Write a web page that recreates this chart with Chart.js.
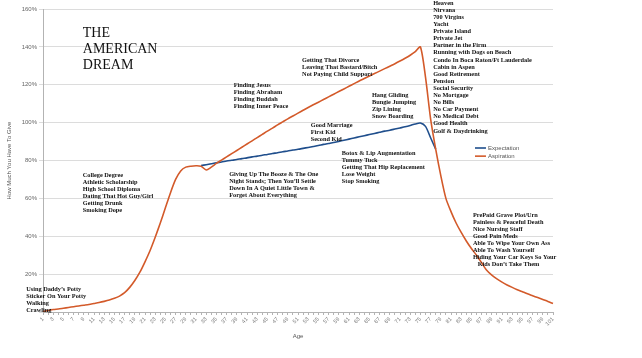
<!DOCTYPE html>
<html>
<head>
<meta charset="utf-8">
<script src="https://cdn.jsdelivr.net/npm/chart.js@4/dist/chart.umd.min.js"></script>
<style>html,body{margin:0;padding:0;background:#fff}</style>
</head>
<body>
<canvas id="chart" width="642" height="358"></canvas>
<script>
// ages on the x axis
const ages = [1,2,3,4,5,6,7,8,9,10,11,12,13,14,15,16,17,18,19,20,
  21,22,23,24,25,26,27,28,29,30,31,32,33,34,35,36,37,38,39,40,
  41,42,43,44,45,46,47,48,49,50,51,52,53,54,55,56,57,58,59,60,
  61,62,63,64,65,66,67,68,69,70,71,72,73,74,75,76,77,78,79,80,
  81,82,83,84,85,86,87,88,89,90,91,92,93,94,95,96,97,98,99,100,101];

// % you have to give
const aspiration = [0.3,0.8,1.3,1.6,2.0,2.4,2.8,3.2,3.6,4.0,
  4.5,5.0,5.6,6.3,7.2,8.4,10.2,13.0,16.6,21.0,
  26.5,32.5,39.5,47,55,63,70,74.5,76.5,77,
  77.2,77,75,76.5,78.5,80.2,81.9,83.6,85.3,87,
  88.7,90.4,92.1,93.8,95.5,97.1,98.8,100.4,102,103.5,
  105,106.5,108,109.4,110.8,112.2,113.6,115,116.4,117.8,
  119.2,120.6,122,123.3,124.6,125.9,127.2,128.5,129.8,131.1,
  132.5,134,135.6,137.5,140,124,102,86,72,60,
  53,47,42,37.5,33.5,30,26,22,19.5,17.5,
  15.8,14.3,13,11.8,10.7,9.6,8.6,7.6,6.6,5.6,4.5];

const expectation = [null,null,null,null,null,null,null,null,null,null,
  null,null,null,null,null,null,null,null,null,null,
  null,null,null,null,null,null,null,null,null,null,
  null,77.3,77.8,78.3,78.8,79.2,79.7,80.1,80.5,81,
  81.4,81.9,82.3,82.8,83.2,83.7,84.1,84.6,85,85.5,
  85.9,86.4,86.9,87.4,87.9,88.5,89,89.5,90.1,90.7,
  91.3,91.9,92.5,93.1,93.7,94.3,94.9,95.5,96,96.6,
  97.2,97.8,98.5,99.3,99.8,98,92,86,null,null,
  null,null,null,null,null,null,null,null,null,null,
  null,null,null,null,null,null,null,null,null,null,null];

const yTicks = [0,20,40,60,80,100,120,140,160];

// text boxes, placed at (age, %) of their first line
const notes = [
  {age: 8.8, pct: 147.3, big: true, lines: ['THE', 'AMERICAN', 'DREAM']},
  {age: -2.3, pct: 12.1, lines: ['Using Daddy’s Potty', 'Sticker On Your Potty', 'Walking', 'Crawling']},
  {age: 8.8, pct: 72.3, lines: ['College Degree', 'Athletic Scholarship', 'High School Diploma',
    'Dating That Hot Guy/Girl', 'Getting Drunk', 'Smoking Dope']},
  {age: 38.4, pct: 119.9, lines: ['Finding Jesus', 'Finding Abraham', 'Finding Buddah', 'Finding Inner Peace']},
  {age: 51.8, pct: 133, lines: ['Getting That Divorce', 'Leaving That Bastard/Bitch', 'Not Paying Child Support']},
  {age: 65.5, pct: 114.6, lines: ['Hang Gliding', 'Bungie Jumping', 'Zip Lining', 'Snow Boarding']},
  {age: 53.5, pct: 98.7, lines: ['Good Marriage', 'First Kid', 'Second Kid']},
  {age: 59.6, pct: 84, lines: ['Botox & Lip Augmentation', 'Tummy Tuck', 'Getting That Hip Replacement',
    'Lose Weight', 'Stop Smoking']},
  {age: 37.5, pct: 72.9, lines: ['Giving Up The Booze & The One', 'Night Stands; Then You’ll Settle',
    'Down In A Quiet Little Town &', 'Forget About Everything']},
  {age: 77.5, pct: 163.1, lines: ['Heaven', 'Nirvana', '700 Virgins', 'Yacht', 'Private Island', 'Private Jet',
    'Partner in the Firm', 'Running with Dogs on Beach', 'Condo In Boca Raton/Ft Lauderdale', 'Cabin in Aspen',
    'Good Retirement', 'Pension', 'Social Security', 'No Mortgage', 'No Bills', 'No Car Payment',
    'No Medical Debt', 'Good Health', 'Golf & Daydrinking']},
  {age: 85.3, pct: 51.2, lines: ['PrePaid Grave Plot/Urn', 'Painless & Peaceful Death', 'Nice Nursing Staff',
    'Good Pain Meds', 'Able To Wipe Your Own Ass', 'Able To Wash Yourself',
    'Hiding Your Car Keys So Your', '   Kids Don’t Take Them']}
];

const blue = '#1f4e8c';
const orange = '#d35a2a';

const annotate = {
  id: 'annotate',
  afterDatasetsDraw(chart) {
    const {ctx, scales: {x, y}} = chart;
    ctx.save();
    ctx.textBaseline = 'middle';
    ctx.fillStyle = '#111';
    notes.forEach(n => {
      ctx.font = n.big ? '14px "Liberation Serif"' : 'bold 6.3px "Liberation Serif"';
      const lh = n.big ? 16 : 7.1;
      const px = x.getPixelForValue(n.age - 1);
      const py = y.getPixelForValue(n.pct);
      n.lines.forEach((line, i) => ctx.fillText(line, px, py + i * lh));
    });

    // legend sits inside the plot
    const lx = x.getPixelForValue(84.7);
    const items = [['Expectation', blue, 86.6], ['Aspiration', orange, 82.3]];
    ctx.font = '6px "Liberation Sans"';
    items.forEach(([label, color, pct]) => {
      const ly = y.getPixelForValue(pct);
      ctx.strokeStyle = color;
      ctx.lineWidth = 1.6;
      ctx.beginPath();
      ctx.moveTo(lx, ly);
      ctx.lineTo(lx + 11, ly);
      ctx.stroke();
      ctx.fillStyle = '#555';
      ctx.fillText(label, lx + 13, ly);
    });
    ctx.restore();
  }
};

new Chart(document.getElementById('chart'), {
  type: 'line',
  data: {
    labels: ages,
    datasets: [
      {label: 'Expectation', data: expectation, borderColor: blue, order: 1},
      {label: 'Aspiration', data: aspiration, borderColor: orange, order: 0}
    ]
  },
  options: {
    responsive: false,
    animation: false,
    layout: {padding: {top: 9, right: 89, bottom: 14, left: 0}},
    elements: {
      point: {radius: 0},
      line: {tension: 0.25, borderWidth: 1.6, fill: false}
    },
    plugins: {legend: {display: false}, tooltip: {enabled: false}},
    scales: {
      x: {
        grid: {drawOnChartArea: false, tickLength: 3, color: '#b3b3b3'},
        border: {color: '#b3b3b3'},
        ticks: {
          autoSkip: false, minRotation: 45, maxRotation: 45, padding: 1,
          color: '#777', font: {size: 5.5, family: 'Liberation Sans'},
          callback: (v, i) => i % 2 === 0 ? ages[i] : ''
        },
        title: {display: true, text: 'Age', color: '#555', font: {size: 6, family: 'Liberation Sans'}},
        afterFit: s => { s.height = 32; }
      },
      y: {
        min: 0, max: 160,
        afterBuildTicks: s => { s.ticks = yTicks.map(v => ({value: v})); },
        grid: {color: '#dcdcdc', tickLength: 4},
        border: {color: '#b3b3b3'},
        ticks: {
          color: '#666', padding: 2, font: {size: 6, family: 'Liberation Sans'},
          callback: v => v === 0 ? '' : v + '%'
        },
        title: {display: true, text: 'How Much You Have To Give', color: '#555',
          padding: {top: 6}, font: {size: 6, family: 'Liberation Sans'}},
        afterFit: s => { s.width = 43; }
      }
    }
  },
  plugins: [annotate]
});
</script>
</body>
</html>
